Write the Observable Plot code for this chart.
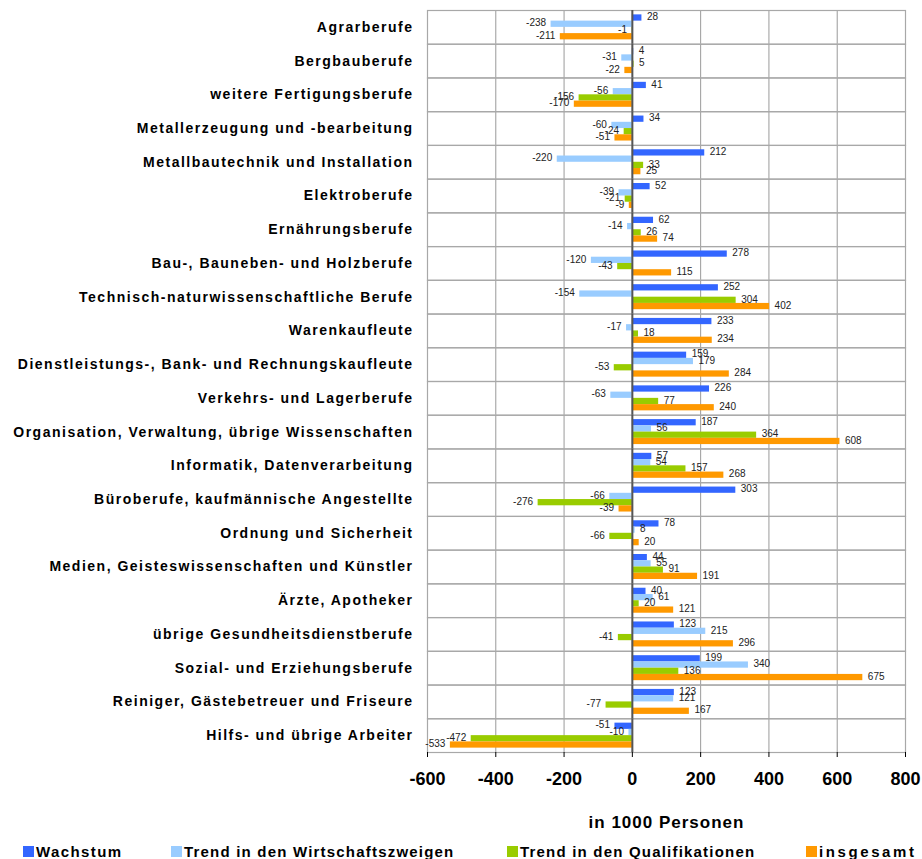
<!DOCTYPE html>
<html>
<head>
<meta charset="utf-8">
<script src="https://cdn.jsdelivr.net/npm/d3@7"></script>
<script src="https://cdn.jsdelivr.net/npm/@observablehq/plot@0.6"></script>
<style>
  body { margin: 0; background: #fff; font-family: "Liberation Sans", Arial, sans-serif; }
  #chart svg [aria-label="fy-axis tick label"] text { letter-spacing: 1.5px; }
  #chart svg [aria-label="x-axis label"] text { letter-spacing: 1px; }
  #legend { position: relative; width: 922px; height: 27px; }
  #legend .item { position: absolute; top: 11px; display: flex; align-items: center; font-weight: bold; font-size: 15px; letter-spacing: 1.2px; color: #000; white-space: nowrap; }
  #legend .sw { width: 11px; height: 11px; margin-right: 2px; }
</style>
</head>
<body>
<div id="chart"></div>
<div id="legend"></div>
<script>
const categories = [
  "Agrarberufe",
  "Bergbauberufe",
  "weitere Fertigungsberufe",
  "Metallerzeugung und -bearbeitung",
  "Metallbautechnik und Installation",
  "Elektroberufe",
  "Ernährungsberufe",
  "Bau-, Bauneben- und Holzberufe",
  "Technisch-naturwissenschaftliche Berufe",
  "Warenkaufleute",
  "Dienstleistungs-, Bank- und Rechnungskaufleute",
  "Verkehrs- und Lagerberufe",
  "Organisation, Verwaltung, übrige Wissenschaften",
  "Informatik, Datenverarbeitung",
  "Büroberufe, kaufmännische Angestellte",
  "Ordnung und Sicherheit",
  "Medien, Geisteswissenschaften und Künstler",
  "Ärzte, Apotheker",
  "übrige Gesundheitsdienstberufe",
  "Sozial- und Erziehungsberufe",
  "Reiniger, Gästebetreuer und Friseure",
  "Hilfs- und übrige Arbeiter"
];
const seriesNames = ["Wachstum", "Trend in den Wirtschaftszweigen", "Trend in den Qualifikationen", "insgesamt"];
const wachstum   = [28, 4, 41, 34, 212, 52, 62, 278, 252, 233, 159, 226, 187, 57, 303, 78, 44, 40, 123, 199, 123, -51];
const trendWZ    = [-238, -31, -56, -60, -220, -39, -14, -120, -154, -17, 179, -63, 56, 54, -66, 8, 55, 61, 215, 340, 121, -10];
const trendQual  = [-1, 5, -156, -24, 33, -21, 26, -43, 304, 18, -53, 77, 364, 157, -276, -66, 91, 20, -41, 136, -77, -472];
const insgesamt  = [-211, -22, -170, -51, 25, -9, 74, 115, 402, 234, 284, 240, 608, 268, -39, 20, 191, 121, 296, 675, 167, -533];
const xTicks = [-600, -400, -200, 0, 200, 400, 600, 800];
const colors = ["#3366ff", "#99ccff", "#99cc00", "#ff9900"];
const axisTitle = "in 1000 Personen";

const seriesValues = [wachstum, trendWZ, trendQual, insgesamt];
const data = categories.flatMap((c, i) =>
  seriesNames.map((s, j) => ({category: c, series: s, value: seriesValues[j][i]}))
);

const chart = Plot.plot({
  width: 922,
  height: 832,
  marginLeft: 427,
  marginRight: 17,
  marginTop: 10,
  marginBottom: 80,
  style: {fontFamily: "'Liberation Sans', Arial, sans-serif", background: "white", color: "#000"},
  x: {domain: [-600, 800]},
  y: {domain: seriesNames, paddingInner: 0, paddingOuter: 0.7, round: false, axis: null},
  fy: {domain: categories, padding: 0, round: false, label: null, axis: null},
  color: {domain: seriesNames, range: colors},
  marks: [
    Plot.gridX(xTicks, {stroke: "#9a9a9a", strokeOpacity: 1}),
    Plot.frame({stroke: "#a8a8a8", strokeWidth: 1.2}),
    Plot.barX(data, {x: "value", y: "series", fy: "category", fill: "series"}),
    Plot.ruleX([0], {stroke: "#555", strokeWidth: 2}),
    Plot.text(data, {filter: d => d.value >= 0, x: "value", y: "series", fy: "category", text: d => String(d.value), textAnchor: "start", dx: 5, dy: -1, fontSize: 10, fill: "#222"}),
    Plot.text(data, {filter: d => d.value < 0, x: "value", y: "series", fy: "category", text: d => String(d.value), textAnchor: "end", dx: -5, dy: -1, fontSize: 10, fill: "#222"}),
    Plot.axisFy({anchor: "left", tickSize: 0, tickPadding: 14, fontSize: 14, fontWeight: "bold", label: null}),
    Plot.axisX({ticks: xTicks, tickSize: 5, tickPadding: 15, fontSize: 18, fontWeight: "bold", tickFormat: d => String(d), label: axisTitle, labelAnchor: "center", labelOffset: 75, labelArrow: "none"})
  ]
});
document.getElementById("chart").appendChild(chart);

chart.querySelectorAll('[aria-label="x-axis label"] text').forEach(t => { t.setAttribute("font-size", 17); t.setAttribute("font-weight", "bold"); });

const legend = document.getElementById("legend");
const legendLeft = [23, 171, 507, 806];
const legendSpacing = [1.4, 1.2, 1.2, 2.6];
seriesNames.forEach((s, i) => {
  const item = document.createElement("div");
  item.className = "item";
  item.style.left = legendLeft[i] + "px";
  item.style.letterSpacing = legendSpacing[i] + "px";
  const sw = document.createElement("span");
  sw.className = "sw";
  sw.style.background = colors[i];
  const tx = document.createElement("span");
  tx.textContent = s;
  item.appendChild(sw);
  item.appendChild(tx);
  legend.appendChild(item);
});
</script>
</body>
</html>
